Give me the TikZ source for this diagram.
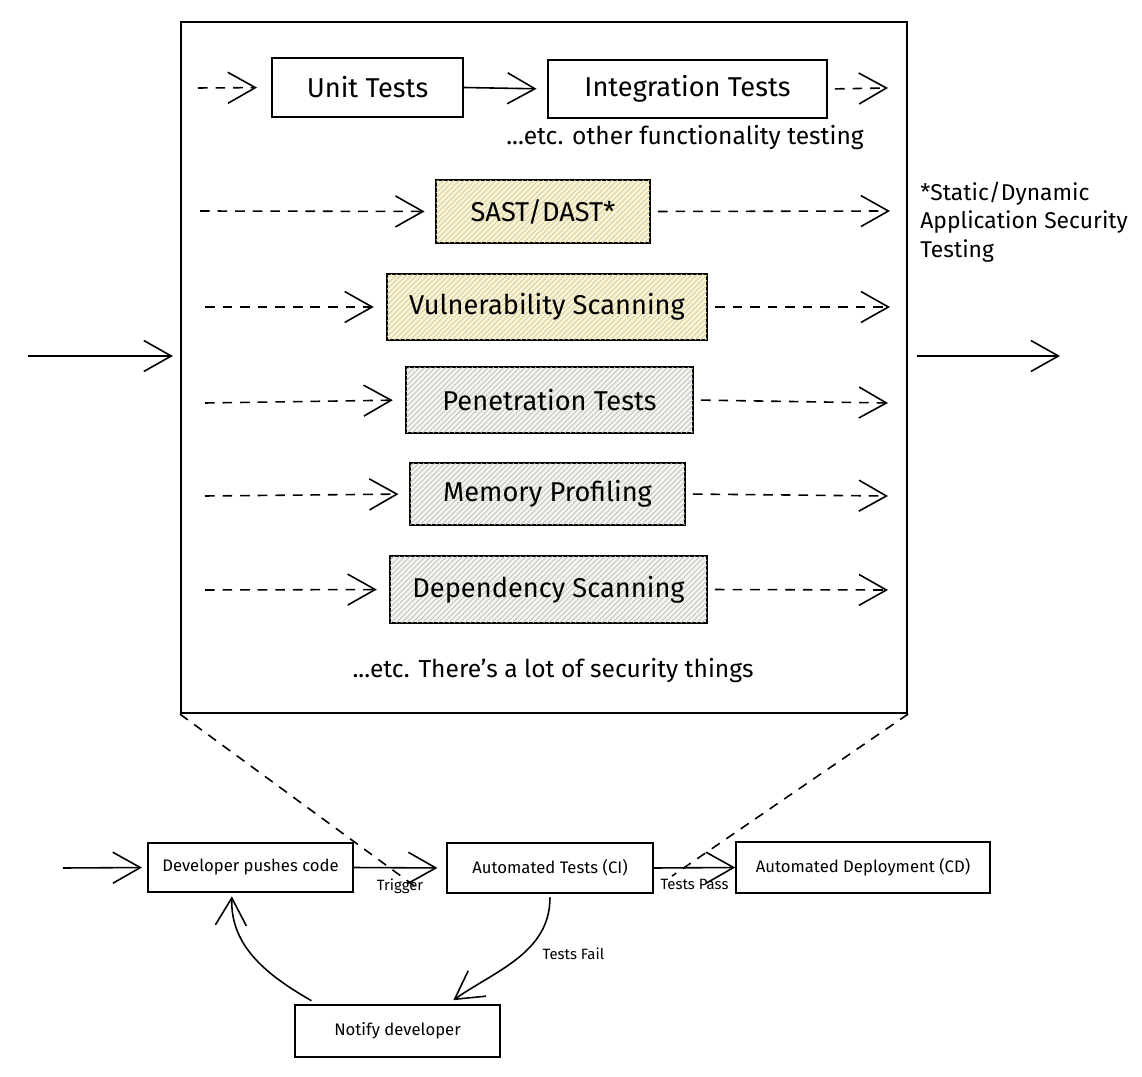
\documentclass[tikz,border=0pt]{standalone}
\usepackage{fontspec}
\setmainfont{Fira Sans}
\usetikzlibrary{arrows.meta,patterns}
\definecolor{sasthatch}{HTML}{D8CC80}
\definecolor{sastbase}{HTML}{F7F3DE}
\definecolor{greyhatch}{HTML}{BDBDB8}
\definecolor{greybase}{HTML}{F3F3F0}

\begin{document}
\begin{tikzpicture}[x=0.02cm, y=-0.02cm,
  box/.style={draw, line width=1.1pt, font=\fontsize{15.5}{18}\selectfont, inner sep=0pt},
  smallbox/.style={draw, line width=0.9pt, font=\fontsize{9.5}{11}\selectfont, inner sep=0pt},
  yellowbox/.style={box, fill=sastbase, postaction={pattern=north east lines, pattern color=sasthatch}},
  greybox/.style={box, fill=greybase, postaction={pattern=north east lines, pattern color=greyhatch}},
  chev/.style={-{Straight Barb[length=0.55cm, width=0.62cm, line width=0.9pt]}, line width=0.9pt},
  dashchev/.style={chev, dash pattern=on 5.5pt off 4.5pt},
  tag/.style={font=\fontsize{8.5}{10}\selectfont, inner sep=1pt},
  remark/.style={font=\fontsize{14}{17}\selectfont}]
\useasboundingbox (0,0) rectangle (1142,1077);

\node[draw, line width=1.3pt, minimum width=14.52cm, minimum height=13.82cm] (big) at (544,367.5) {};

\node[box, minimum width=3.82cm, minimum height=1.18cm] (unit) at (367.5,87.5) {Unit Tests};
\node[box, minimum width=5.58cm, minimum height=1.16cm] (integ) at (687.5,89) {Integration Tests};
\node[remark] (etcfun) at (685,138) {...etc. other functionality testing};

\node[yellowbox, minimum width=4.28cm, minimum height=1.26cm] (sast) at (543,211.5) {SAST/DAST*};
\node[yellowbox, minimum width=6.4cm, minimum height=1.32cm] (vuln) at (547,307) {Vulnerability Scanning};
\node[greybox, minimum width=5.74cm, minimum height=1.32cm] (pen) at (549.5,400) {Penetration Tests};
\node[greybox, minimum width=5.5cm, minimum height=1.24cm] (mem) at (547.5,494) {Memory Profiling};
\node[greybox, minimum width=6.34cm, minimum height=1.34cm] (dep) at (548.5,589.5) {Dependency Scanning};
\node[remark] (etcsec) at (553,671) {...etc. There's a lot of security things};

\node[anchor=north west, align=left, font=\fontsize{13}{16}\selectfont, inner sep=0pt] (note) at (920,182) {*Static/Dynamic\\Application Security\\Testing};

\coordinate (unitin) at (198,88);
\coordinate (integout) at (888,88);
\coordinate (sastin) at (200,211);
\coordinate (sastout) at (890,211);
\coordinate (vulnin) at (205,307);
\coordinate (vulnout) at (890,307);
\coordinate (penin) at (205,403);
\coordinate (penout) at (888,403);
\coordinate (memin) at (205,496);
\coordinate (memout) at (888,496);
\coordinate (depin) at (205,590);
\coordinate (depout) at (888,590);

\draw[dashchev, shorten >=8pt] (unitin) -- (unit.west);
\draw[chev, shorten >=6pt] (unit.east) -- (integ.west);
\draw[dashchev, shorten <=4pt] (integ.east) -- (integout);
\draw[dashchev, shorten >=6pt] (sastin) -- (sast.west);
\draw[dashchev, shorten <=4pt] (sast.east) -- (sastout);
\draw[dashchev, shorten >=7pt] (vulnin) -- (vuln.west);
\draw[dashchev, shorten <=4pt] (vuln.east) -- (vulnout);
\draw[dashchev, shorten >=7pt] (penin) -- (pen.west);
\draw[dashchev, shorten <=4pt] (pen.east) -- (penout);
\draw[dashchev, shorten >=6pt] (memin) -- (mem.west);
\draw[dashchev, shorten <=4pt] (mem.east) -- (memout);
\draw[dashchev, shorten >=7pt] (depin) -- (dep.west);
\draw[dashchev, shorten <=4pt] (dep.east) -- (depout);

\coordinate (leftin) at (28,356);
\coordinate (rightout) at (1060,356);
\draw[chev, shorten >=4pt] (leftin) -- (big.west |- leftin);
\draw[chev, shorten <=5pt] (big.east |- rightout) -- (rightout);

\node[smallbox, minimum width=4.1cm, minimum height=0.98cm] (dev) at (250.5,867.5) {Developer pushes code};
\node[smallbox, minimum width=4.12cm, minimum height=1.0cm] (ci) at (550,868) {Automated Tests (CI)};
\node[smallbox, minimum width=5.08cm, minimum height=1.02cm] (cd) at (863,867.5) {Automated Deployment (CD)};
\node[smallbox, minimum width=4.1cm, minimum height=1.04cm] (notify) at (397.5,1031) {Notify developer};

\coordinate (funnelL) at (420,890);
\coordinate (funnelR) at (672,876);
\draw[line width=0.9pt, dash pattern=on 5.5pt off 4.5pt] (big.south west) -- (funnelL);
\draw[line width=0.9pt, dash pattern=on 5.5pt off 4.5pt] (big.south east) -- (funnelR);

\coordinate (devin) at (63,868);
\draw[chev, shorten >=3pt] (devin) -- (dev.west);
\draw[chev, shorten >=5pt] (dev.east) -- node[tag, below=5pt] (trigger) {Trigger} (ci.west);
\draw[chev] (ci.east) -- node[tag, below=5pt] (pass) {Tests Pass} (cd.west);
\draw[chev, shorten <=2pt, shorten >=4pt] (ci.south) to[out=-90, in=35] node[tag, pos=0.45, right=10pt] (fail) {Tests Fail} ([xshift=1cm]notify.north);
\draw[chev, shorten <=4pt, shorten >=2pt] ([xshift=-1.6cm]notify.north) to[out=150, in=-92] ([xshift=-0.37cm]dev.south);
\end{tikzpicture}
\end{document}
